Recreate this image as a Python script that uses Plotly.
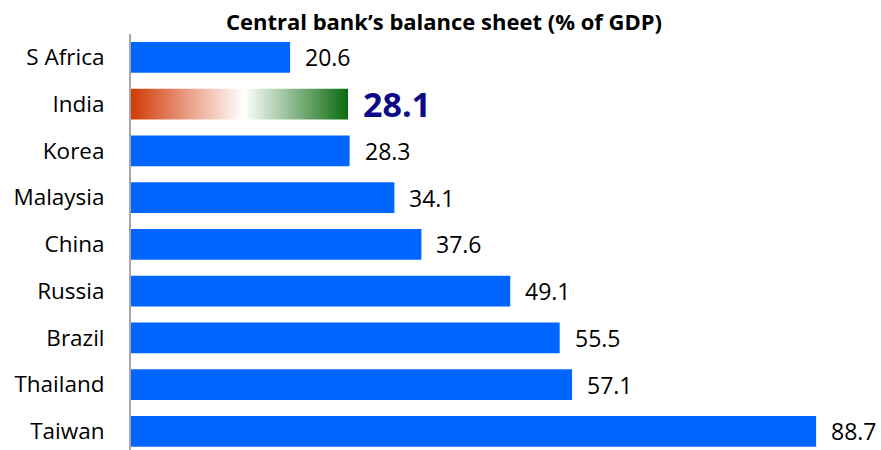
import plotly.graph_objects as go

# Central bank balance sheets, % of GDP
countries = ["S Africa", "India", "Korea", "Malaysia", "China",
             "Russia", "Brazil", "Thailand", "Taiwan"]
values = [20.6, 28.1, 28.3, 34.1, 37.6, 49.1, 55.5, 57.1, 88.7]
highlight = "India"

BLUE = "#0066FF"
BAR_W = 0.66
FONT = "Open Sans"

pos = list(range(len(countries)))
hi = countries.index(highlight)

fig = go.Figure()

# Regular bars (the highlighted one is drawn separately with a gradient)
fig.add_trace(go.Bar(
    y=pos, x=values, orientation="h", width=BAR_W,
    marker=dict(color=[BLUE if c != highlight else "rgba(0,0,0,0)" for c in countries],
                line=dict(width=0)),
    hoverinfo="skip", showlegend=False,
))

# Highlighted bar: filled rectangle with a saffron-white-green gradient
v = values[hi]
half = BAR_W / 2
fig.add_trace(go.Scatter(
    x=[0, v, v, 0, 0],
    y=[hi - half, hi - half, hi + half, hi + half, hi - half],
    mode="lines", line=dict(width=0), fill="toself",
    fillgradient=dict(type="horizontal",
                      colorscale=[[0, "#d23a06"], [0.52, "#ffffff"], [1, "#0b6a0e"]]),
    hoverinfo="skip", showlegend=False,
))

# Value labels
for i, (c, val) in enumerate(zip(countries, values)):
    is_hi = c == highlight
    fig.add_annotation(
        x=val, y=i, text=f"{val:.1f}", showarrow=False,
        xanchor="left", yanchor="middle", xshift=13,
        font=dict(family=FONT, size=34 if is_hi else 23,
                  color="#0b0b8a" if is_hi else "#000000",
                  weight="bold" if is_hi else "normal"),
    )

fig.update_layout(
    width=881, height=450,
    margin=dict(l=131, r=0, t=34, b=0),
    paper_bgcolor="white", plot_bgcolor="white",
    title=dict(text="<b>Central bank’s balance sheet (% of GDP)</b>",
               xref="container", x=444 / 881, xanchor="center",
               yref="container", y=1 - 22 / 450, yanchor="middle",
               font=dict(family=FONT, size=22, color="#000000")),
    xaxis=dict(range=[0, 97.1], visible=False, fixedrange=True),
    yaxis=dict(range=[8.4, -0.5], tickmode="array", tickvals=pos, ticktext=countries,
               showline=True, linecolor="#a6a6a6", linewidth=2,
               showgrid=False, zeroline=False, ticks="",
               ticklabelstandoff=20,
               tickfont=dict(family=FONT, size=22.5, color="#000000")),
)

fig.write_html("out.html")
